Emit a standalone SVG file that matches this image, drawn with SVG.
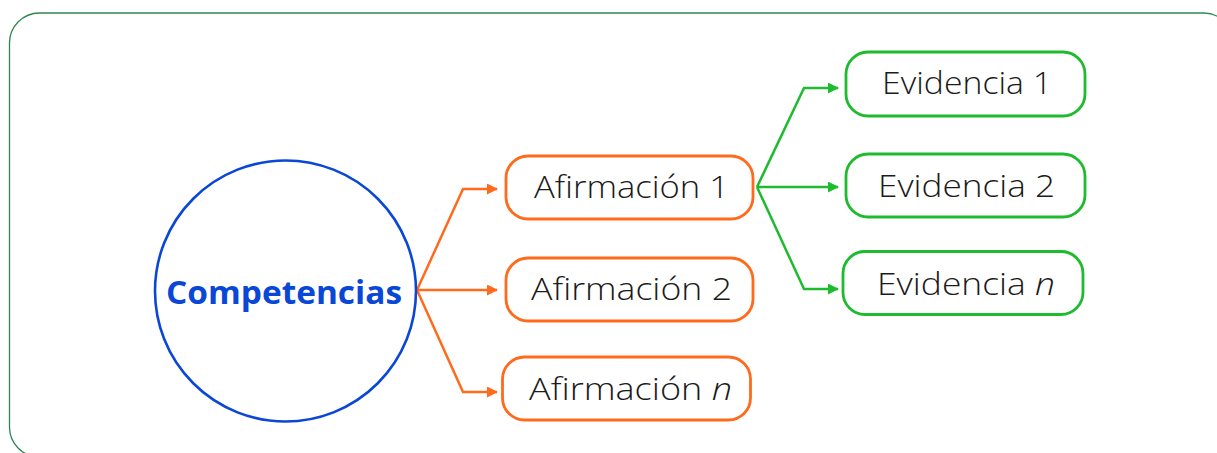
<svg xmlns="http://www.w3.org/2000/svg" width="1217" height="453" viewBox="0 0 1217 453">
<style>
.frame{fill:#fff;stroke:#2e8654;stroke-width:1.3}
.circ{fill:#fff;stroke:#0a47d6;stroke-width:2.6}
.ob{fill:#fff;stroke:#ff6a1c;stroke-width:2.8}
.gb{fill:#fff;stroke:#1fbb2f;stroke-width:2.8}
.oc{fill:none;stroke:#ff6a1c;stroke-width:2.5}
.gc{fill:none;stroke:#1fbb2f;stroke-width:2.5}
.lbl{font-family:"Open Sans","Liberation Sans",sans-serif;font-weight:300;font-size:32px;fill:#1b1b1b}
.main{font-family:"Open Sans","Liberation Sans",sans-serif;font-weight:700;font-size:32px;fill:#0a47d6}
</style>
<defs>
<marker id="ao" markerWidth="11" markerHeight="11" refX="10" refY="5.5" orient="auto" markerUnits="userSpaceOnUse"><path d="M0,0 L11,5.5 L0,11 Z" fill="#ff6a1c"/></marker>
<marker id="ag" markerWidth="11" markerHeight="11" refX="10" refY="5.5" orient="auto" markerUnits="userSpaceOnUse"><path d="M0,0 L11,5.5 L0,11 Z" fill="#1fbb2f"/></marker>
</defs>
<rect class="frame" x="9.5" y="13" width="1224" height="444" rx="30"/>
<g id="connectors">
<polyline class="oc" points="417,290 463,189 497,189" marker-end="url(#ao)"/>
<polyline class="oc" points="417,290 497,290" marker-end="url(#ao)"/>
<polyline class="oc" points="417,290 463,392 497,392" marker-end="url(#ao)"/>
<polyline class="gc" points="757,187 804,88 838,88" marker-end="url(#ag)"/>
<polyline class="gc" points="757,187 838,187" marker-end="url(#ag)"/>
<polyline class="gc" points="757,187 804,289 838,289" marker-end="url(#ag)"/>
</g>
<g id="competencias">
<circle class="circ" cx="285.5" cy="291" r="130.5"/>
<text class="main" x="166" y="304" textLength="236" lengthAdjust="spacingAndGlyphs">Competencias</text>
</g>
<g id="afirmacion1">
<rect class="ob" x="506" y="156" width="247" height="63" rx="22"/>
<text class="lbl" x="534" y="198" textLength="195" lengthAdjust="spacingAndGlyphs">Afirmación 1</text>
</g>
<g id="afirmacion2">
<rect class="ob" x="506" y="258" width="247" height="63" rx="22"/>
<text class="lbl" x="531" y="300" textLength="201" lengthAdjust="spacingAndGlyphs">Afirmación 2</text>
</g>
<g id="afirmacionn">
<rect class="ob" x="502.5" y="357" width="248" height="63" rx="22"/>
<text class="lbl" x="529" y="400" textLength="203" lengthAdjust="spacingAndGlyphs">Afirmación <tspan font-style="italic">n</tspan></text>
</g>
<g id="evidencia1">
<rect class="gb" x="846" y="52" width="239" height="64" rx="22"/>
<text class="lbl" x="882" y="94" textLength="170" lengthAdjust="spacingAndGlyphs">Evidencia 1</text>
</g>
<g id="evidencia2">
<rect class="gb" x="846" y="154" width="239" height="63" rx="22"/>
<text class="lbl" x="878" y="197" textLength="177" lengthAdjust="spacingAndGlyphs">Evidencia 2</text>
</g>
<g id="evidencian">
<rect class="gb" x="843" y="251.5" width="240" height="63" rx="22"/>
<text class="lbl" x="877" y="295" textLength="178" lengthAdjust="spacingAndGlyphs">Evidencia <tspan font-style="italic">n</tspan></text>
</g>
</svg>
